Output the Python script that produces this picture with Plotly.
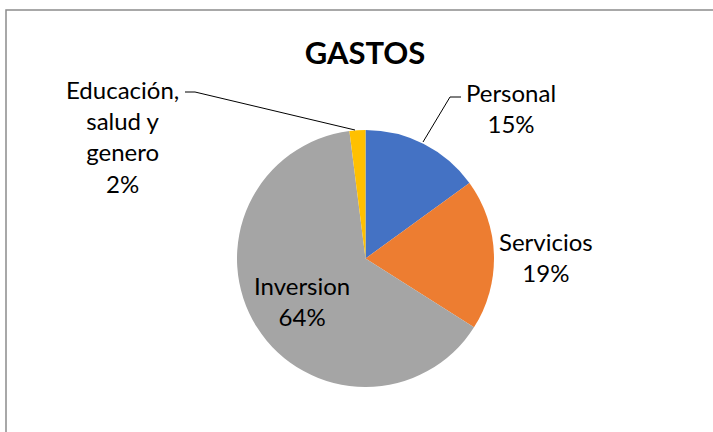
import plotly.graph_objects as go

# data
labels = ["Personal", "Servicios", "Inversion", "Educación, salud y genero"]
label_lines = ["Personal", "Servicios", "Inversion", "Educación,<br>salud y<br>genero"]
values = [15, 19, 64, 2]
colors = ["#4472C4", "#ED7D31", "#A5A5A5", "#FFC000"]

W, H = 713, 432
FONT = "Lato"


def px(x, y):
    """pixel position -> paper coords (margins are zero)"""
    return x / W, 1 - y / H


(dx0, dy0), (dx1, dy1) = px(237, 387), px(494, 130)

fig = go.Figure(go.Pie(
    labels=labels,
    values=values,
    sort=False,
    direction="clockwise",
    rotation=0,
    marker=dict(colors=colors, line=dict(width=0)),
    textinfo="none",
    hoverinfo="label+percent",
    showlegend=False,
    domain=dict(x=[dx0, dx1], y=[dy0, dy1]),
))

total = sum(values)
# label centres in pixels for each slice
label_pos = [(511, 108), (546, 257), (302, 301), (122, 136)]
for lab, v, (x, y) in zip(label_lines, values, label_pos):
    ax, ay = px(x, y)
    fig.add_annotation(
        x=ax, y=ay, xref="paper", yref="paper",
        xanchor="center", yanchor="middle",
        text=f"{lab}<br>{round(100 * v / total)}%",
        showarrow=False, align="center",
        font=dict(family=FONT, size=24, color="#000000"),
    )

# leader lines
leaders = [
    [(423, 142), (450, 97), (461, 97)],
    [(185, 92), (195, 92), (355, 130)],
]
for pts in leaders:
    p = [px(x, y) for x, y in pts]
    path = "M " + " L ".join(f"{a},{b}" for a, b in p)
    fig.add_shape(type="path", path=path, xref="paper", yref="paper",
                  line=dict(color="#000000", width=1))

# chart area border (runs off the right and bottom edges)
x0, y1 = px(6, 10)
fig.add_shape(type="rect", xref="paper", yref="paper",
              x0=x0, y0=-0.05, x1=1.05, y1=y1,
              line=dict(color="#8c8c8c", width=1.5))

tx, ty = px(365, 53)
fig.update_layout(
    width=W, height=H,
    margin=dict(l=0, r=0, t=0, b=0),
    paper_bgcolor="white",
    plot_bgcolor="white",
    title=dict(text="<b>GASTOS</b>", x=tx, xanchor="center",
               y=ty, yanchor="middle",
               font=dict(family=FONT, size=31, color="#000000")),
)

# drop the default page margin so the figure fills the window
fig.write_html("out.html", config={"displayModeBar": False},
               post_script="document.body.style.margin='0';")
